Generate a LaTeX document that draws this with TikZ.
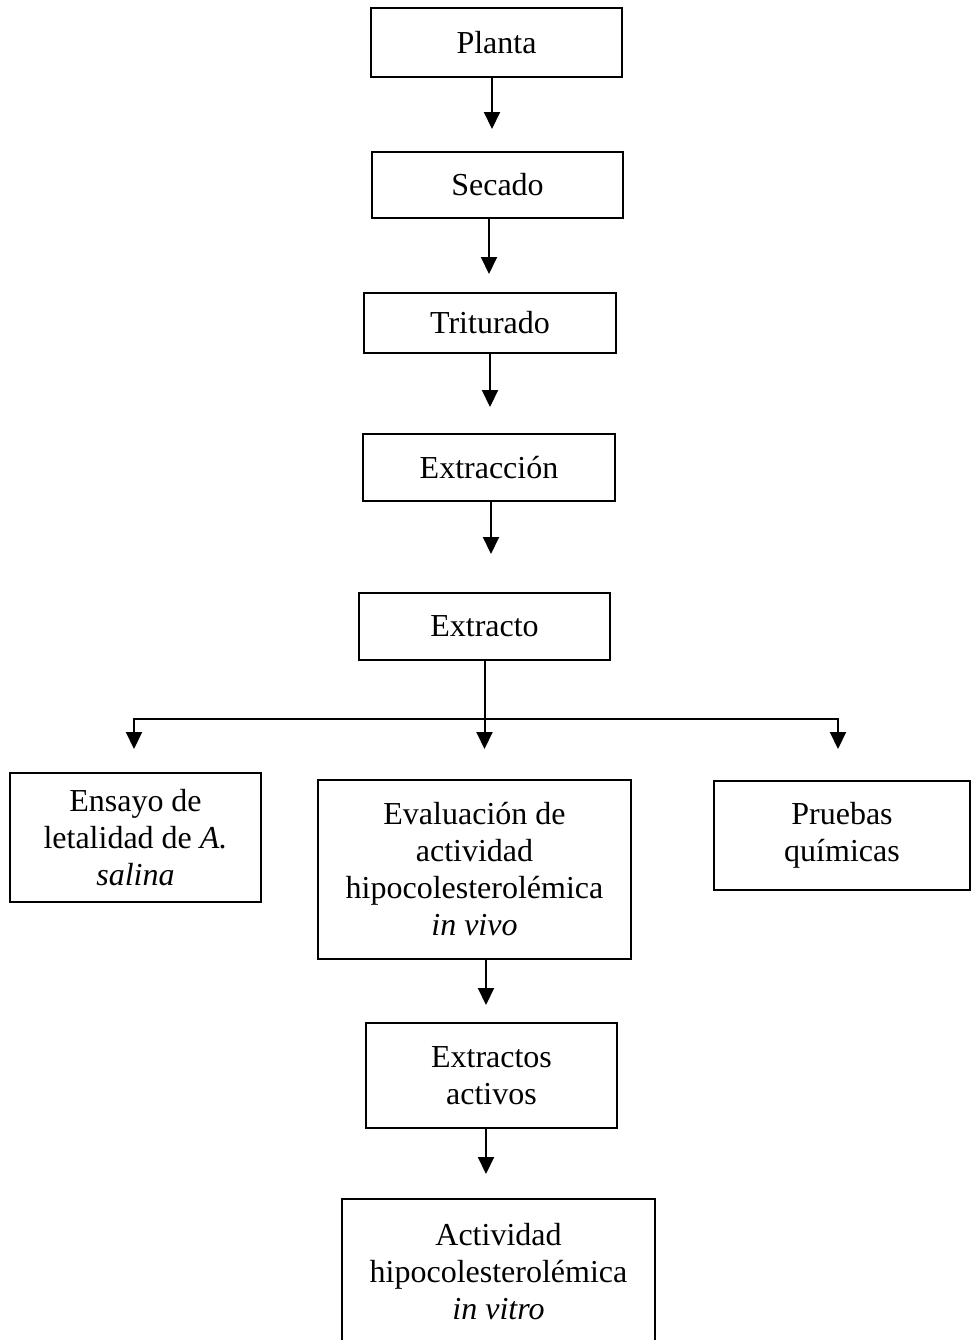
\documentclass[tikz,border=0pt]{standalone}
\usepackage{fontspec}
\setmainfont{Liberation Serif}
\usetikzlibrary{arrows.meta}
\tikzset{
  stepbox/.style={draw,line width=1pt,inner sep=0pt,align=center,
    font=\fontsize{16}{18.5}\selectfont},
  flow/.style={line width=1pt,-{Triangle[width=8pt,length=8.5pt]}},
}
\begin{document}
\begin{tikzpicture}[x=0.5pt,y=-0.5pt]
\useasboundingbox (0,0) rectangle (971,1340);
% main chain
\node[stepbox,minimum width=125.5pt,minimum height=34.5pt] (planta) at (496.5,42.5) {Planta};
\node[stepbox,minimum width=125.5pt,minimum height=33pt] (secado) at (497.5,185) {Secado};
\node[stepbox,minimum width=126pt,minimum height=30pt] (triturado) at (490,323) {Triturado};
\node[stepbox,minimum width=126pt,minimum height=33.5pt] (extraccion) at (489,467.5) {Extracción};
\node[stepbox,minimum width=125.5pt,minimum height=33.5pt] (extracto) at (484.5,626.5) {Extracto};
% branches
\node[stepbox,minimum width=125.5pt,minimum height=64.5pt] (ensayo) at (135.5,837.5)
 {Ensayo de\\letalidad de \textit{A.}\\\textit{salina}};
\node[stepbox,minimum width=156.5pt,minimum height=89.5pt] (evaluacion) at (474.5,869.5)
 {Evaluación de\\actividad\\hipocolesterolémica\\\textit{in vivo}};
\node[stepbox,minimum width=128pt,minimum height=54.5pt] (pruebas) at (842,835.5)
 {Pruebas\\químicas};
\node[stepbox,minimum width=125.5pt,minimum height=52.5pt] (activos) at (491.5,1075.5)
 {Extractos\\activos};
\node[stepbox,minimum width=156.5pt,minimum height=72.5pt] (invitro) at (498.5,1271.5)
 {Actividad\\hipocolesterolémica\\\textit{in vitro}};
\coordinate (split) at (484.5,719);
\coordinate (lbranch) at (134,719);
\coordinate (rbranch) at (838,719);
% arrows
\draw[flow,shorten >=11pt] ([xshift=-2.25pt]planta.south) -- ([xshift=-2.25pt]planta.south |- secado.north);
\draw[flow,shorten >=9pt] ([xshift=-4.25pt]secado.south) -- ([xshift=-4.25pt]secado.south |- triturado.north);
\draw[flow,shorten >=13pt] (triturado.south) -- (triturado.south |- extraccion.north);
\draw[flow,shorten >=19pt] ([xshift=1pt]extraccion.south) -- ([xshift=1pt]extraccion.south |- extracto.north);
\draw[flow,shorten >=15pt] (extracto.south) -- (extracto.south |- evaluacion.north);
\draw[flow,shorten >=11.5pt] (split) -- (lbranch) -- (lbranch |- ensayo.north);
\draw[flow,shorten >=15.5pt] (split) -- (rbranch) -- (rbranch |- pruebas.north);
\draw[flow,shorten >=8.5pt] ([xshift=5.75pt]evaluacion.south) -- ([xshift=5.75pt]evaluacion.south |- activos.north);
\draw[flow,shorten >=12pt] ([xshift=-2.75pt]activos.south) -- ([xshift=-2.75pt]activos.south |- invitro.north);
\end{tikzpicture}
\end{document}
